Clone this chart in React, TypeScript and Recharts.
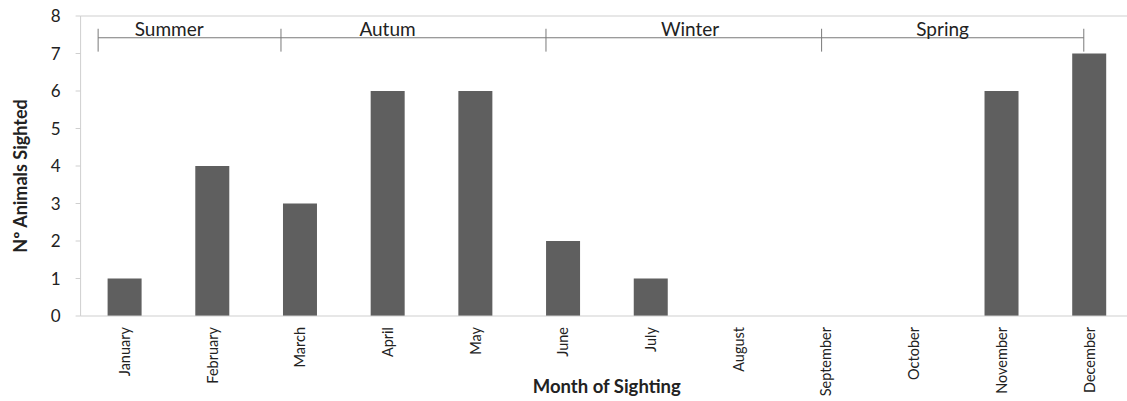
import { BarChart, Bar, XAxis, YAxis, ReferenceLine, ReferenceDot } from "recharts";

const months = [
  "January", "February", "March", "April", "May", "June",
  "July", "August", "September", "October", "November", "December",
];
const sightings = [1, 4, 3, 6, 6, 2, 1, 0, 0, 0, 6, 7];
const yTicks = [0, 1, 2, 3, 4, 5, 6, 7, 8];

// season bracket, in month units (0 = left edge of January)
const seasonNames = ["Summer", "Autum", "Winter", "Spring"];
const seasonLabelPos = [1.01, 3.5, 6.95, 9.83];
const seasonBreaks = [0.2, 2.285, 5.307, 8.45, 11.44];
const bracketY = 7.42;
const bracketTickTop = 7.66;
const bracketTickBottom = 7.05;
const labelY = 7.47;

const data = months.map((m, i) => ({ month: m, count: sightings[i], pos: i + 0.5 }));

const font = "Lato, 'Open Sans', sans-serif";
const axisGray = "#cfcfcf";
const bracketGray = "#7a7a7a";

const MonthTick = (props: any) => {
  const { x, y, payload } = props;
  return (
    <text
      x={x}
      y={y}
      transform={`rotate(-90, ${x}, ${y})`}
      textAnchor="end"
      dominantBaseline="central"
      fontSize={14.5}
      fontFamily={font}
      fill="#222"
    >
      {payload.value}
    </text>
  );
};

export default function App() {
  return (
    <div style={{ position: "absolute", left: 0, top: 0, width: 1127, height: 401, overflow: "hidden", background: "#fff" }}>
      <BarChart
        width={1140}
        height={401}
        data={data}
        margin={{ top: 16, right: 7.1, left: 0, bottom: 0 }}
        barSize={34}
      >
        <XAxis
          xAxisId="cat"
          dataKey="month"
          height={85}
          stroke={axisGray}
          tickLine={false}
          tickSize={0}
          tickMargin={11}
          interval={0}
          tick={<MonthTick />}
          label={{
            content: ({ viewBox }: any) => (
              <text
                x={viewBox.x + viewBox.width / 2}
                y={viewBox.y + 77}
                textAnchor="middle"
                fontSize={18.5}
                fontWeight="bold"
                fontFamily={font}
                fill="#222"
              >
                Month of Sighting
              </text>
            ),
          }}
        />
        <XAxis
          xAxisId="season"
          dataKey="pos"
          type="number"
          domain={[0, 12]}
          allowDataOverflow
          padding={{ left: 0, right: 0 }}
          hide
        />
        <YAxis
          domain={[0, 8]}
          ticks={yTicks}
          width={80.6}
          stroke={axisGray}
          tickSize={5}
          tickMargin={15}
          tick={{ fontSize: 17, fontFamily: font, fill: "#222" }}
          label={{
            content: ({ viewBox }: any) => {
              const cx = 20;
              const cy = viewBox.y + viewBox.height / 2 + 10;
              return (
                <text
                  x={cx}
                  y={cy}
                  transform={`rotate(-90, ${cx}, ${cy})`}
                  textAnchor="middle"
                  dominantBaseline="central"
                  fontSize={18}
                  fontWeight="bold"
                  fontFamily={font}
                  fill="#222"
                >
                  Nº Animals Sighted
                </text>
              );
            },
          }}
        />
        <ReferenceLine xAxisId="cat" y={8} stroke={axisGray} strokeWidth={1} />
        <Bar xAxisId="cat" dataKey="count" fill="#5f5f5f" isAnimationActive={false} />

        <ReferenceLine
          xAxisId="season"
          stroke={bracketGray}
          strokeWidth={1.2}
          ifOverflow="visible"
          segment={[
            { x: seasonBreaks[0], y: bracketY },
            { x: seasonBreaks[seasonBreaks.length - 1], y: bracketY },
          ]}
        />
        {seasonBreaks.map((b) => (
          <ReferenceLine
            key={`b${b}`}
            xAxisId="season"
            stroke={bracketGray}
            strokeWidth={1}
            ifOverflow="visible"
            segment={[
              { x: b, y: bracketTickBottom },
              { x: b, y: bracketTickTop },
            ]}
          />
        ))}
        {seasonNames.map((s, i) => (
          <ReferenceDot
            key={s}
            xAxisId="season"
            x={seasonLabelPos[i]}
            y={labelY}
            ifOverflow="visible"
            shape={(p: any) => (
              <text
                x={p.cx}
                y={p.cy}
                textAnchor="middle"
                fontSize={19}
                fontFamily={font}
                fill="#222"
              >
                {s}
              </text>
            )}
          />
        ))}
      </BarChart>
    </div>
  );
}
